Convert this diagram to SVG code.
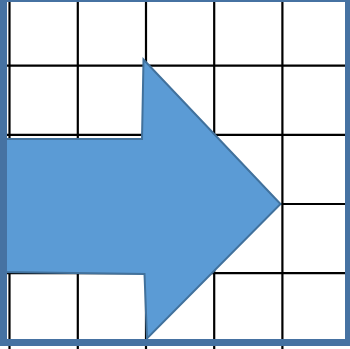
<svg xmlns="http://www.w3.org/2000/svg" width="350" height="349" viewBox="0 0 350 349">
  <style>
    .grid line { stroke: #000000; stroke-width: 2.2; }
    .frame { fill: #4672A2; }
    .arrow { fill: #5B9BD5; stroke: #41719C; stroke-width: 2; stroke-linejoin: miter; }
  </style>
  <rect x="0" y="0" width="350" height="349" fill="#FFFFFF"/>
  <g id="grid" class="grid">
    <line x1="9.5" y1="0" x2="9.5" y2="349"/>
    <line x1="77.8" y1="0" x2="77.8" y2="349"/>
    <line x1="146" y1="0" x2="146" y2="349"/>
    <line x1="214.2" y1="0" x2="214.2" y2="349"/>
    <line x1="282.4" y1="0" x2="282.4" y2="349"/>
    <line x1="0" y1="65.7" x2="350" y2="65.7"/>
    <line x1="0" y1="134.8" x2="350" y2="134.8"/>
    <line x1="0" y1="204" x2="350" y2="204"/>
    <line x1="0" y1="273.1" x2="350" y2="273.1"/>
  </g>
  <g id="arrow">
    <polygon class="arrow" points="0,139 142,139 143.5,59.5 280.5,204 147,338.5 144.5,274 0,272"/>
  </g>
  <g id="frame">
    <rect class="frame" x="0" y="0" width="350" height="2"/>
    <rect class="frame" x="0" y="0" width="7" height="346"/>
    <rect class="frame" x="345" y="0" width="5" height="346"/>
    <rect class="frame" x="0" y="339" width="350" height="7"/>
  </g>
</svg>
